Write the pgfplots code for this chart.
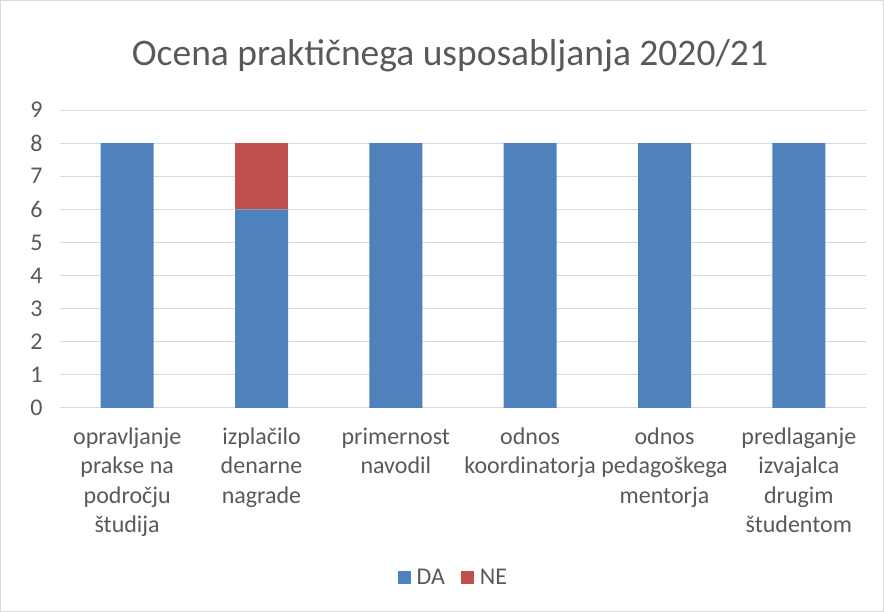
\documentclass[border=0pt]{standalone}
\usepackage{pgfplots}
\pgfplotsset{compat=1.18}
\usepackage{fontspec}
\setmainfont{Carlito}
\definecolor{da}{HTML}{4F81BD}
\definecolor{ne}{HTML}{C0504D}
\definecolor{txt}{HTML}{595959}
\definecolor{grd}{HTML}{D9D9D9}
\begin{document}
\begin{tikzpicture}[x=1pt,y=1pt]
\useasboundingbox (0,0) rectangle (884,612);
\draw[grd,line width=1pt] (0.5,0.5) rectangle (883.5,611.5);
\node[txt,font={\fontsize{37.5}{44}\selectfont}] at (450,556) {Ocena praktičnega usposabljanja 2020/21};
\begin{axis}[
  at={(60pt,204pt)}, anchor=south west,
  scale only axis, width=806pt, height=298pt,
  xmin=-0.5, xmax=5.5, ymin=0, ymax=9,
  ybar stacked, bar width=53pt,
  axis line style={draw=none},
  ytick={0,...,9}, xtick={0,...,5},
  major tick length=0pt,
  ymajorgrids, major grid style={grd,line width=1pt},
  xticklabels={{opravljanje\\prakse na\\področju\\študija},{izplačilo\\denarne\\nagrade},{primernost\\navodil},{odnos\\koordinatorja},{odnos\\pedagoškega\\mentorja},{predlaganje\\izvajalca\\drugim\\študentom}},
  xticklabel style={align=center,text=txt,font={\fontsize{24}{29.5}\selectfont},yshift=-16pt},
  yticklabel style={text=txt,font={\fontsize{24}{28}\selectfont},xshift=-14pt},
  /pgf/number format/assume math mode=true,
  legend columns=2,
  legend style={at={(0.488,-0.57)},anchor=center,draw=none,font={\fontsize{24}{28}\selectfont},text=txt,
    /tikz/every even column/.append style={column sep=14pt}},
  legend image code/.code={\fill[#1] (0pt,-6.5pt) rectangle (13pt,6.5pt); \path (0pt,0pt) -- (17pt,0pt);},
]
\addplot[fill=da,draw=none] coordinates {(0,8) (1,6) (2,8) (3,8) (4,8) (5,8)};
\addplot[fill=ne,draw=none] coordinates {(0,0) (1,2) (2,0) (3,0) (4,0) (5,0)};
\legend{DA,NE}
\end{axis}
\end{tikzpicture}
\end{document}
